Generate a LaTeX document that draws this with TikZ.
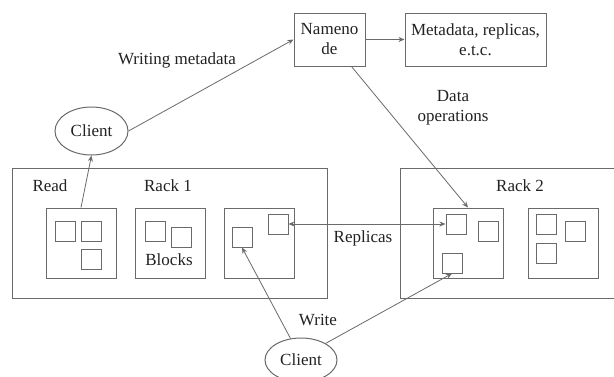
\documentclass[tikz,border=0pt]{standalone}
\usepackage{fontspec}
\setmainfont{Liberation Serif}
\usetikzlibrary{shapes.geometric,arrows.meta}
\definecolor{linec}{HTML}{6A6A6A}
\definecolor{txtc}{HTML}{222222}
\begin{document}
\begin{tikzpicture}[x=1pt,y=-1pt,
  font=\fontsize{17}{20}\selectfont, text=txtc,
  box/.style={draw=linec, line width=1pt, inner sep=0pt, align=center},
  sq/.style={draw=linec, line width=1pt, inner sep=0pt, minimum size=20pt},
  oval/.style={draw=linec, line width=1pt, ellipse, inner sep=0pt},
  lbl/.style={inner sep=0pt, align=center},
  arr/.style={draw=linec, line width=0.8pt, -{Stealth[length=6pt,width=5pt]}},
  darr/.style={draw=linec, line width=0.8pt, {Stealth[length=6pt,width=5pt]}-{Stealth[length=6pt,width=5pt]}}]
\useasboundingbox (0,0) rectangle (614,376);
\clip (0,0) rectangle (614,376);
\fill[white] (0,0) rectangle (614,376);
% top
\node[box, minimum width=71pt, minimum height=53pt] (nn) at (329.5,39.5) {Nameno\\de};
\node[box, minimum width=141pt, minimum height=53pt] (meta) at (475.5,39.5) {Metadata, replicas,\\e.t.c.};
\node[oval, minimum width=73pt, minimum height=48pt] (client1) at (91.5,131) {Client};
\node[oval, minimum width=72pt, minimum height=44pt] (client2) at (301,360) {Client};
% racks
\node[box, minimum width=315pt, minimum height=130pt] (rack1) at (169.5,233) {};
\node[box, minimum width=220pt, minimum height=130pt] (rack2) at (510,233) {};
\node[box, minimum width=70pt, minimum height=70pt] (boxA) at (81,243) {};
\node[box, minimum width=70pt, minimum height=70pt] (boxB) at (170,243) {};
\node[box, minimum width=70pt, minimum height=70pt] (boxC) at (259,243) {};
\node[box, minimum width=70pt, minimum height=70pt] (boxD) at (468,243) {};
\node[box, minimum width=70pt, minimum height=70pt] (boxE) at (563,243) {};
% squares
\node[sq] (A1) at (65,231) {};
\node[sq] (A2) at (91,231) {};
\node[sq] (A3) at (91,259.5) {};
\node[sq] (B1) at (155,231) {};
\node[sq] (B2) at (181,237) {};
\node[sq] (C1) at (242,237) {};
\node[sq] (C2) at (278,224) {};
\node[sq] (D1) at (456,224) {};
\node[sq] (D2) at (488,231) {};
\node[sq] (D3) at (452,263) {};
\node[sq] (E1) at (546,224) {};
\node[sq] (E2) at (575,231) {};
\node[sq] (E3) at (546,253) {};
% labels
\node[lbl] (lwm) at (177,60) {Writing metadata};
\node[lbl] (ldo) at (453,108) {Data\\operations};
\node[lbl] (lread) at (50,186) {Read};
\node[lbl] (lr1) at (168,186) {Rack 1};
\node[lbl] (lr2) at (520,186) {Rack 2};
\node[lbl] (lblocks) at (169,260) {Blocks};
\node[lbl] (lrep) at (363,238) {Replicas};
\node[lbl] (lwrite) at (318,320) {Write};
% connectors
\draw[arr] (client1.east) -- (nn.west);
\draw[arr] (nn.east) -- (meta.west);
\draw[arr] ([xshift=22pt]nn.south) -- (boxD.north);
\draw[arr] (boxA.north) -- (client1.south);
\draw[darr] (C2.east) -- (D1.west);
\draw[arr] (client2.116) -- (C1.south);
\draw[arr] (client2.34) -- (D3.south);
\end{tikzpicture}
\end{document}
